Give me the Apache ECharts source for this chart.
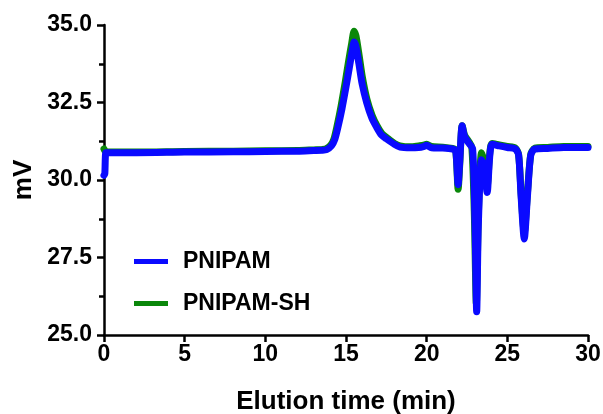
<!DOCTYPE html>
<html><head><meta charset="utf-8">
<script src="https://cdn.jsdelivr.net/npm/echarts@6/dist/echarts.min.js"></script>
<style>html,body{margin:0;padding:0;background:#fff}#c{width:603px;height:414px}</style>
</head><body><div id="c"></div>
<script>
var seriesNames = ['PNIPAM', 'PNIPAM-SH'];
var yTicks = [25.0, 27.5, 30.0, 32.5, 35.0];
var xTicks = [0, 5, 10, 15, 20, 25, 30];

var blueTime = [0, 0.05, 0.12, 0.3, 2, 5, 8, 10, 12, 13, 13.5, 13.8, 14.1, 14.3, 14.5, 14.75, 15.0, 15.2, 15.38, 15.5, 15.62, 15.8, 16.0, 16.28, 16.6, 16.9, 17.2, 17.5, 18.0, 18.35, 19.0, 19.5, 19.8, 20.0, 20.3, 21.0, 21.6, 21.8, 21.95, 22.05, 22.2, 22.35, 22.6, 22.85, 23.0, 23.1, 23.2, 23.4, 23.55, 23.75, 23.9, 24.05, 24.5, 25.0, 25.5, 25.7, 25.85, 26.05, 26.25, 26.45, 26.7, 27.5, 28.5, 30];
var blueVal  = [30.15, 30.2, 30.88, 30.88, 30.88, 30.9, 30.91, 30.92, 30.93, 30.95, 30.96, 30.98, 31.1, 31.3, 31.7, 32.3, 33.0, 33.6, 34.15, 34.45, 34.3, 33.75, 33.1, 32.5, 32.0, 31.7, 31.45, 31.33, 31.15, 31.06, 31.04, 31.05, 31.08, 31.12, 31.04, 31.03, 31.0, 30.95, 29.85, 30.6, 31.75, 31.4, 31.2, 31.0, 28.5, 25.75, 28.5, 30.65, 30.5, 29.6, 30.7, 31.15, 31.1, 31.05, 31.0, 30.8, 29.5, 28.1, 29.5, 30.8, 31.0, 31.02, 31.05, 31.05];

var greenTime = [0, 0.05, 0.12, 0.3, 2, 5, 8, 10, 12, 13, 13.5, 13.75, 14.05, 14.25, 14.45, 14.7, 14.95, 15.15, 15.35, 15.5, 15.62, 15.82, 16.02, 16.3, 16.62, 16.92, 17.22, 17.52, 18.0, 18.35, 19.0, 19.5, 19.8, 20.0, 20.3, 21.0, 21.6, 21.8, 21.95, 22.05, 22.2, 22.35, 22.6, 22.8, 22.95, 23.08, 23.2, 23.4, 23.55, 23.75, 23.9, 24.05, 24.5, 25.0, 25.5, 25.7, 25.85, 26.05, 26.25, 26.45, 26.7, 27.5, 28.5, 30];
var greenVal  = [31.0, 30.95, 30.9, 30.9, 30.9, 30.92, 30.93, 30.94, 30.95, 30.97, 30.98, 31.0, 31.12, 31.32, 31.75, 32.4, 33.15, 33.8, 34.4, 34.8, 34.65, 34.0, 33.3, 32.6, 32.08, 31.75, 31.5, 31.37, 31.18, 31.1, 31.07, 31.1, 31.12, 31.15, 31.08, 31.06, 31.02, 30.97, 29.7, 30.5, 31.75, 31.45, 31.25, 31.05, 29.0, 26.0, 28.8, 30.88, 30.6, 29.8, 30.8, 31.18, 31.13, 31.08, 31.03, 30.82, 29.6, 28.3, 29.6, 30.82, 31.03, 31.05, 31.08, 31.08];

function pairs(t, v) { return t.map(function (x, i) { return [x, v[i]]; }); }

var chart = echarts.init(document.getElementById('c'), null, { renderer: 'canvas' });
var font = 'Liberation Sans, Arial, sans-serif';
chart.setOption({
  animation: false,
  backgroundColor: '#ffffff',
  grid: { left: 104, right: 15, top: 25, bottom: 79, containLabel: false, outerBoundsMode: 'none' },
  legend: {
    orient: 'vertical', left: 129, top: 245, itemGap: 19,
    icon: 'rect', itemWidth: 34, itemHeight: 5,
    data: seriesNames,
    textStyle: { fontFamily: font, fontWeight: 'bold', fontSize: 23, color: '#000', padding: [0, 0, 0, 10] }
  },
  xAxis: {
    type: 'value', min: xTicks[0], max: xTicks[xTicks.length - 1], interval: 5,
    name: 'Elution time (min)', nameLocation: 'middle', nameGap: 54,
    nameTextStyle: { fontFamily: font, fontWeight: 'bold', fontSize: 26, color: '#000' },
    axisLine: { onZero: false, lineStyle: { color: '#000', width: 2.5 } },
    axisTick: { show: true, inside: false, length: 7, lineStyle: { color: '#000', width: 2.5 } },
    axisLabel: { fontFamily: font, fontWeight: 'bold', fontSize: 23, color: '#000', margin: 8 },
    splitLine: { show: false }
  },
  yAxis: {
    type: 'value', min: yTicks[0], max: yTicks[yTicks.length - 1], interval: 2.5,
    name: 'mV', nameLocation: 'middle', nameGap: 61, nameRotate: 90,
    nameTextStyle: { fontFamily: font, fontWeight: 'bold', fontSize: 26, color: '#000' },
    axisLine: { show: true, onZero: false, lineStyle: { color: '#000', width: 2.5 } },
    axisTick: { show: true, inside: false, length: 7, lineStyle: { color: '#000', width: 2.5 } },
    minorTick: { show: true, splitNumber: 2, length: 5, lineStyle: { color: '#000', width: 2.5 } },
    axisLabel: { fontFamily: font, fontWeight: 'bold', fontSize: 23, color: '#000', margin: 12,
      formatter: function (v) { return v.toFixed(1); } },
    splitLine: { show: false }
  },
  series: [
    { name: seriesNames[1], type: 'line', data: pairs(greenTime, greenVal), showSymbol: false, symbol: 'none',
      smooth: 0.25, color: '#0a870a', lineStyle: { color: '#0a870a', width: 7, join: 'round', cap: 'round' }, z: 2 },
    { name: seriesNames[0], type: 'line', data: pairs(blueTime, blueVal), showSymbol: false, symbol: 'none',
      smooth: 0.25, color: '#0a0aff', lineStyle: { color: '#0a0aff', width: 7, join: 'round', cap: 'round' }, z: 3 }
  ]
});
</script></body></html>
